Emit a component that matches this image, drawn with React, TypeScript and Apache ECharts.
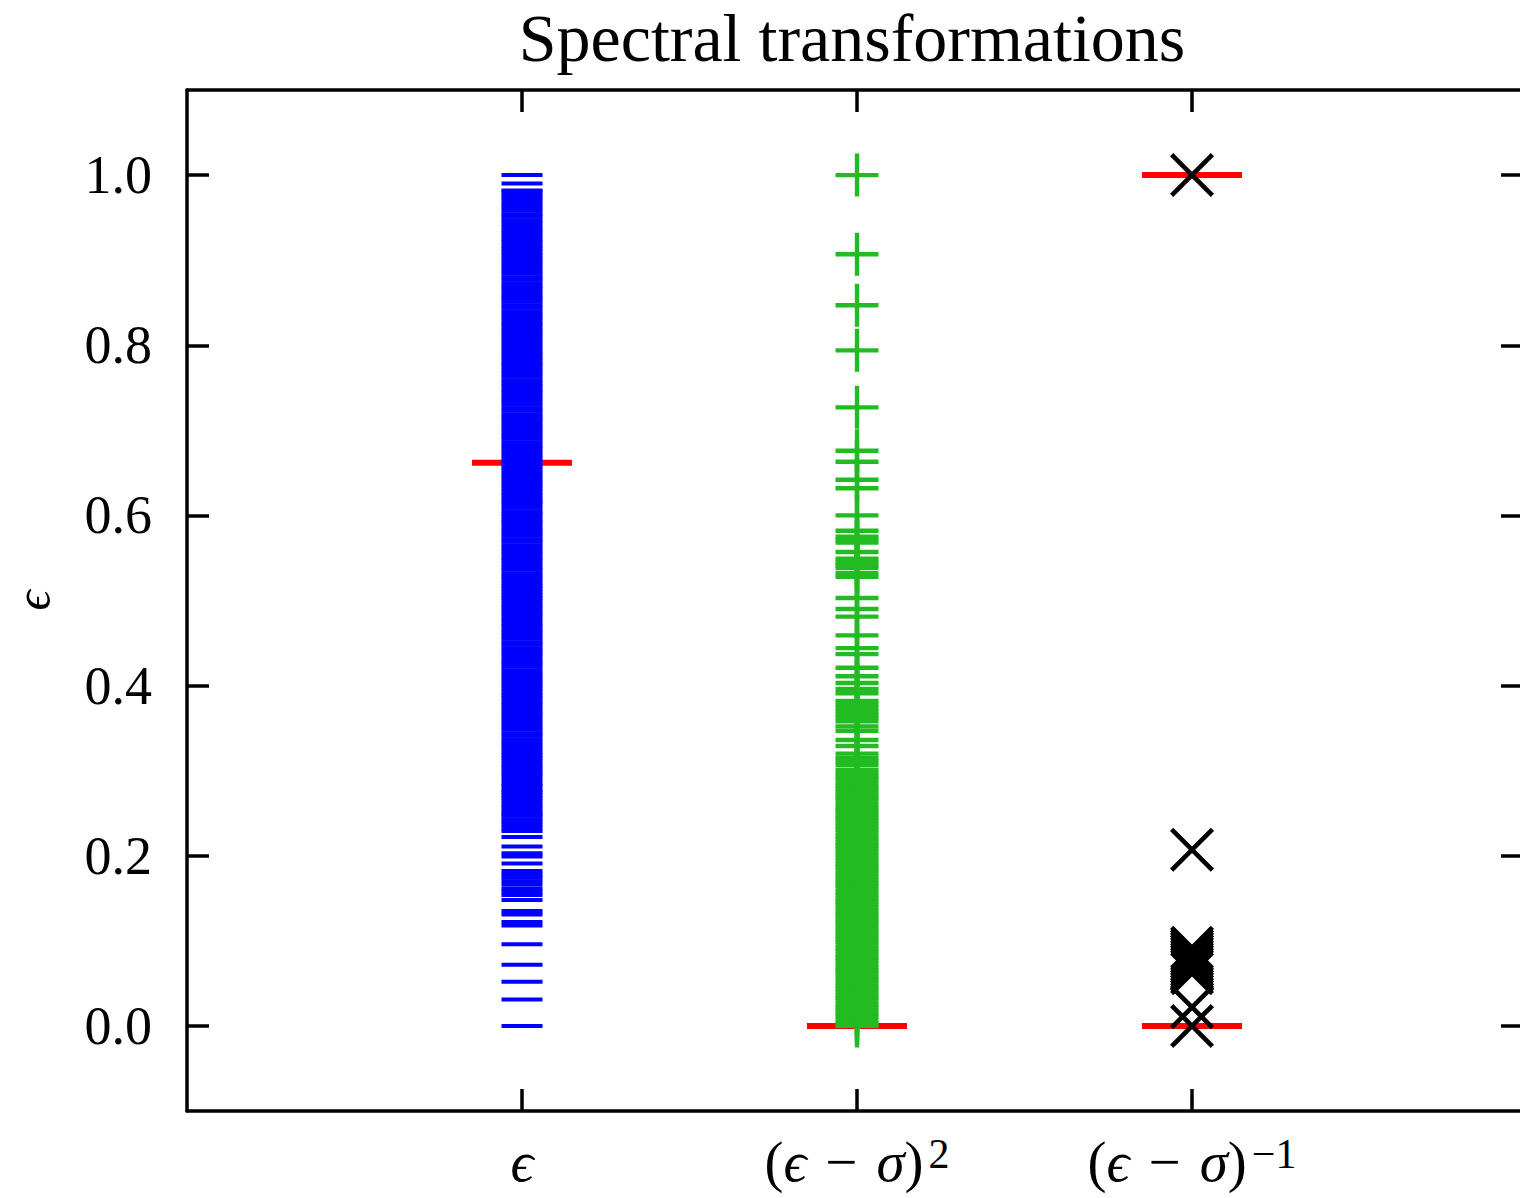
import React, { useEffect, useRef } from "react";
import * as echarts from "echarts";

// Category positions on the x axis
const categories = ["eps", "sq", "inv"];
const catPos = [1, 2, 3];
const yTicks = [0, 0.2, 0.4, 0.6, 0.8, 1.0];

// Original spectrum (epsilon), normalised to [0,1]
const epsLow = [
  0.0, 0.031, 0.052, 0.072, 0.096, 0.118, 0.122, 0.131, 0.135, 0.148, 0.154, 0.158, 0.161,
  0.166, 0.170, 0.174, 0.178, 0.182, 0.191, 0.199, 0.203, 0.211, 0.222,
];
const epsBulk = [
  0.229, 0.232, 0.236, 0.240, 0.243, 0.247, 0.2495, 0.253, 0.257, 0.260, 0.264, 0.268, 0.271,
  0.2745, 0.278, 0.282, 0.285, 0.289, 0.293, 0.2965, 0.300, 0.304, 0.307, 0.311, 0.315, 0.318,
  0.322, 0.326, 0.330, 0.333, 0.337, 0.341, 0.344, 0.348, 0.352, 0.355, 0.359, 0.363, 0.367,
  0.370, 0.374, 0.378, 0.381, 0.385, 0.389, 0.392, 0.396, 0.400, 0.403, 0.407, 0.411, 0.414,
  0.418, 0.422, 0.426, 0.429, 0.433, 0.437, 0.440, 0.444, 0.448, 0.451, 0.455, 0.459, 0.462,
  0.466, 0.470, 0.473, 0.477, 0.481, 0.484, 0.488, 0.492, 0.495, 0.499, 0.503, 0.506, 0.510,
  0.514, 0.517, 0.521, 0.525, 0.528, 0.532, 0.536, 0.539, 0.543, 0.547, 0.550, 0.554, 0.558,
  0.561, 0.565, 0.569, 0.572, 0.576, 0.580, 0.583, 0.587, 0.591, 0.594, 0.598, 0.602, 0.605,
  0.609, 0.613, 0.616, 0.620, 0.624, 0.627, 0.631, 0.635, 0.638, 0.642, 0.646, 0.649, 0.653,
  0.657, 0.660, 0.664, 0.668, 0.671, 0.675, 0.679, 0.682, 0.686, 0.690, 0.693, 0.697, 0.701,
  0.704, 0.708, 0.712, 0.715, 0.719, 0.723, 0.726, 0.730, 0.734, 0.737, 0.741, 0.745, 0.748,
  0.752, 0.756, 0.759, 0.763, 0.767, 0.770, 0.774, 0.778, 0.781, 0.785, 0.789, 0.792, 0.796,
  0.800, 0.803, 0.807, 0.811, 0.814, 0.818, 0.822, 0.825, 0.829, 0.833, 0.836, 0.840, 0.844,
  0.847, 0.851, 0.855, 0.858, 0.862, 0.866, 0.869, 0.873, 0.877, 0.880, 0.884, 0.888, 0.891,
  0.895, 0.899, 0.902, 0.906, 0.910, 0.913, 0.917, 0.921, 0.924, 0.928, 0.932, 0.935, 0.939,
  0.9435, 0.947, 0.951, 0.954, 0.958, 0.962, 0.965, 0.969, 0.973, 0.976, 0.980, 0.982,
];
const epsTop = [0.990, 1.0];

// Squared shift transform (eps - sigma)^2, normalised
const sqBulk = [
  0.000, 0.003, 0.007, 0.011, 0.014, 0.018, 0.022, 0.025, 0.029, 0.033, 0.036, 0.040, 0.044,
  0.047, 0.051, 0.055, 0.058, 0.062, 0.066, 0.069, 0.073, 0.077, 0.080, 0.084, 0.088, 0.091,
  0.095, 0.099, 0.102, 0.106, 0.110, 0.113, 0.117, 0.121, 0.124, 0.128, 0.132, 0.135, 0.139,
  0.143, 0.146, 0.150, 0.154, 0.157, 0.161, 0.165, 0.168, 0.172, 0.176, 0.179, 0.183, 0.187,
  0.190, 0.194, 0.198, 0.201, 0.205, 0.209, 0.212, 0.216, 0.220, 0.223, 0.227, 0.231, 0.234,
  0.238, 0.242, 0.245, 0.249, 0.253, 0.256, 0.260, 0.2645, 0.268, 0.271, 0.275, 0.279, 0.282,
  0.286, 0.290, 0.293, 0.297, 0.301,
];
const sqUpper = [
  0.307, 0.311, 0.315, 0.320, 0.329, 0.336, 0.347, 0.352, 0.358, 0.362, 0.366, 0.370,
  0.374, 0.378, 0.382, 0.391, 0.396, 0.403, 0.411, 0.421, 0.437, 0.444, 0.459, 0.481, 0.490,
  0.503, 0.528, 0.532, 0.538, 0.541, 0.545, 0.549, 0.557, 0.568, 0.571, 0.575, 0.582, 0.600,
  0.632, 0.642, 0.663, 0.676, 0.727, 0.794, 0.847, 0.907, 1.0,
];

// Inverse shift transform (eps - sigma)^-1, normalised
const invVals = [
  1.0, 0.207, 0.092, 0.089, 0.086, 0.083, 0.080, 0.077, 0.074, 0.071, 0.068, 0.065, 0.062,
  0.022, 0.0,
];

// Targets (red marks): [category position, value]
const targetX = [1, 2, 3, 3];
const targetY = [0.662, 0.0, 0.0, 1.0];

const FONT = "'Liberation Serif', 'DejaVu Serif', serif";

const PLUS =
  "path://M-21.5,-2.2L21.5,-2.2L21.5,2.2L-21.5,2.2Z M-2.2,-21.5L2.2,-21.5L2.2,21.5L-2.2,21.5Z";
const CROSS =
  "path://M-18.4,-21.6L21.6,18.4L18.4,21.6L-21.6,-18.4Z M-21.6,18.4L18.4,-21.6L21.6,-18.4L-18.4,21.6Z";

export default function App() {
  const ref = useRef<HTMLDivElement>(null);

  useEffect(() => {
    if (!ref.current) return;
    const chart = echarts.init(ref.current, null, { renderer: "svg" });

    const epsData = [...epsLow, ...epsBulk, ...epsTop].map((v) => [catPos[0], v]);
    const sqData = [...sqBulk, ...sqUpper].map((v) => [catPos[1], v]);
    const invData = invVals.map((v) => [catPos[2], v]);
    const targetData = targetX.map((x, i) => [x, targetY[i]]);

    const xLabel = (v: number) => {
      if (v === 1) return "{i|ϵ}";
      if (v === 2) return "({i|ϵ} \u200a−\u200a {i|σ}){s|2}";
      if (v === 3) return "({i|ϵ} \u200a−\u200a {i|σ}){s|−1}";
      return "";
    };

    const axisLine = { show: true, onZero: false, lineStyle: { color: "#000", width: 3.5 } };
    const tick = (vals: number[]) => ({
      show: true,
      inside: true,
      length: 22,
      customValues: vals,
      lineStyle: { color: "#000", width: 3.5 },
    });

    chart.setOption({
      animation: false,
      backgroundColor: "#fff",
      title: {
        text: "Spectral transformations",
        left: 852,
        top: 4,
        padding: 0,
        textAlign: "center",
        textStyle: { fontFamily: FONT, fontSize: 68, fontWeight: "normal", color: "#000" },
      },
      grid: {
        left: 187,
        right: 1,
        top: 90,
        bottom: 87,
        containLabel: false,
        outerBoundsMode: "none",
      },
      xAxis: [
        {
          type: "value",
          position: "bottom",
          min: 0,
          max: 3.988,
          axisLine,
          axisTick: tick(catPos),
          splitLine: { show: false },
          axisLabel: {
            show: true,
            customValues: catPos,
            margin: 22,
            formatter: xLabel,
            color: "#000",
            fontFamily: FONT,
            fontSize: 57,
            rich: {
              i: { fontFamily: FONT, fontStyle: "italic", fontSize: 57, color: "#000" },
              s: {
                fontFamily: FONT,
                fontSize: 42,
                color: "#000",
                verticalAlign: "top",
                lineHeight: 30,
                padding: [0, 0, 0, 5],
              },
            },
          },
        },
        {
          type: "value",
          position: "top",
          min: 0,
          max: 3.988,
          axisLine,
          axisTick: tick(catPos),
          splitLine: { show: false },
          axisLabel: { show: false },
        },
      ],
      yAxis: [
        {
          type: "value",
          position: "left",
          min: -0.1,
          max: 1.1,
          axisLine,
          axisTick: tick(yTicks),
          splitLine: { show: false },
          name: "ϵ",
          nameLocation: "middle",
          nameGap: 136,
          nameRotate: 90,
          nameTextStyle: {
            fontFamily: FONT,
            fontStyle: "italic",
            fontSize: 50,
            lineHeight: 36,
            color: "#000",
          },
          axisLabel: {
            show: true,
            customValues: yTicks,
            margin: 35,
            formatter: (v: number) => v.toFixed(1),
            color: "#000",
            fontFamily: FONT,
            fontSize: 54,
          },
        },
        {
          type: "value",
          position: "right",
          min: -0.1,
          max: 1.1,
          axisLine,
          axisTick: tick(yTicks),
          splitLine: { show: false },
          axisLabel: { show: false },
        },
      ],
      series: [
        {
          name: "target",
          type: "scatter",
          xAxisIndex: 0,
          yAxisIndex: 0,
          data: targetData,
          symbol: "rect",
          symbolSize: [100, 6],
          itemStyle: { color: "#ff0000", opacity: 1 },
          silent: true,
        },
        {
          name: categories[0],
          type: "scatter",
          data: epsData,
          symbol: "rect",
          symbolSize: [41, 4],
          itemStyle: { color: "#0000ff", opacity: 1 },
          silent: true,
        },
        {
          name: categories[1],
          type: "scatter",
          data: sqData,
          symbol: PLUS,
          symbolSize: 43,
          itemStyle: { color: "#22bb22", opacity: 1 },
          silent: true,
        },
        {
          name: categories[2],
          type: "scatter",
          data: invData,
          symbol: CROSS,
          symbolSize: 44,
          itemStyle: { color: "#000000", opacity: 1 },
          silent: true,
        },
      ],
    });

    return () => chart.dispose();
  }, []);

  return (
    <div
      style={{
        position: "fixed",
        left: 0,
        top: 0,
        width: 1520,
        height: 1198,
        overflow: "hidden",
        background: "#fff",
      }}
    >
      <div ref={ref} style={{ width: 1524, height: 1198 }} />
    </div>
  );
}
